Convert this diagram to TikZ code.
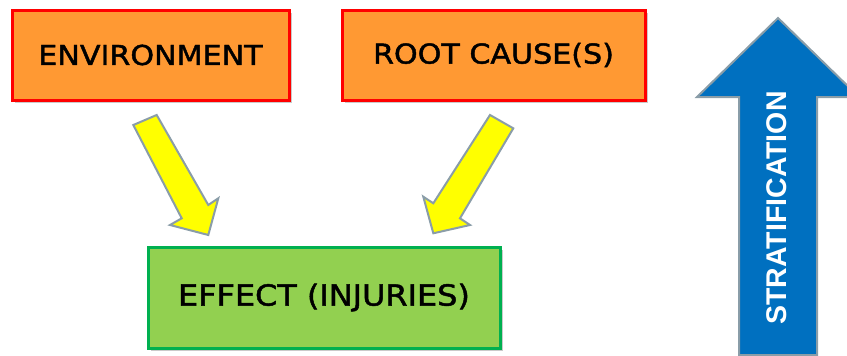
\documentclass[tikz,border=0pt]{standalone}
\usepackage{fontspec}
\usetikzlibrary{shadows}
\newfontfamily\comicfont[FakeStretch=1.1,FakeBold=1.6]{DejaVu Sans}
\newfontfamily\arialfont{Liberation Sans}
\definecolor{boxorange}{HTML}{FF9933}
\definecolor{boxred}{HTML}{FF0000}
\definecolor{boxgreen}{HTML}{92D050}
\definecolor{edgegreen}{HTML}{00B050}
\definecolor{arrowyellow}{HTML}{FFFF00}
\definecolor{arrowedge}{HTML}{8A9DA8}
\definecolor{arrowblue}{HTML}{0070C0}
\tikzset{
  box/.style={draw, line width=3pt, inner sep=0pt,
    drop shadow={shadow xshift=2.5pt, shadow yshift=-2.5pt, fill=gray!70, opacity=0.6}},
  causebox/.style={box, draw=boxred, fill=boxorange, minimum height=90pt},
  effectbox/.style={box, draw=edgegreen, fill=boxgreen, minimum height=101pt, minimum width=352pt},
  fatarrow/.style={draw=arrowedge, line width=2pt, fill=arrowyellow, line join=miter},
  bluearrow/.style={draw=arrowedge, line width=2pt, fill=arrowblue, line join=miter},
  boxtext/.style={font=\comicfont\fontsize{27.4}{30}\selectfont}
}
\begin{document}
\begin{tikzpicture}[x=1pt,y=-1pt]
\useasboundingbox (0,0) rectangle (847,356);
% boxes
\node[causebox, minimum width=277pt, boxtext] (env) at (150.5,55) {ENVIRONMENT};
\node[causebox, minimum width=303pt, boxtext] (root) at (493.5,55) {ROOT CAUSE(S)};
\node[effectbox, font=\comicfont\fontsize{29}{32}\selectfont] (eff) at (324,297.5) {EFFECT (INJURIES)};
% yellow arrows
\draw[fatarrow] (156.7,115) -- (208.3,205) -- (218.3,198.3) -- (208.3,235)
  -- (170,225) -- (181.7,218.3) -- (133.3,125) -- cycle;
\draw[fatarrow] (490,115) -- (433.3,203.3) -- (423.3,196.7) -- (433.3,233.3)
  -- (470,225) -- (460,218.3) -- (513.3,128.3) -- cycle;
% blue stratification arrow
\begin{scope}
\clip (0,0) rectangle (847,356);
\draw[bluearrow] (778,18) -- (859,97) -- (817,97) -- (817,355) -- (739,355)
  -- (739,97) -- (697,97) -- cycle;
\end{scope}
\node[rotate=90, text=white, inner sep=0pt,
  font=\arialfont\bfseries\fontsize{28.5}{30}\selectfont] (strat) at (777,208) {STRATIFICATION};
\end{tikzpicture}
\end{document}
